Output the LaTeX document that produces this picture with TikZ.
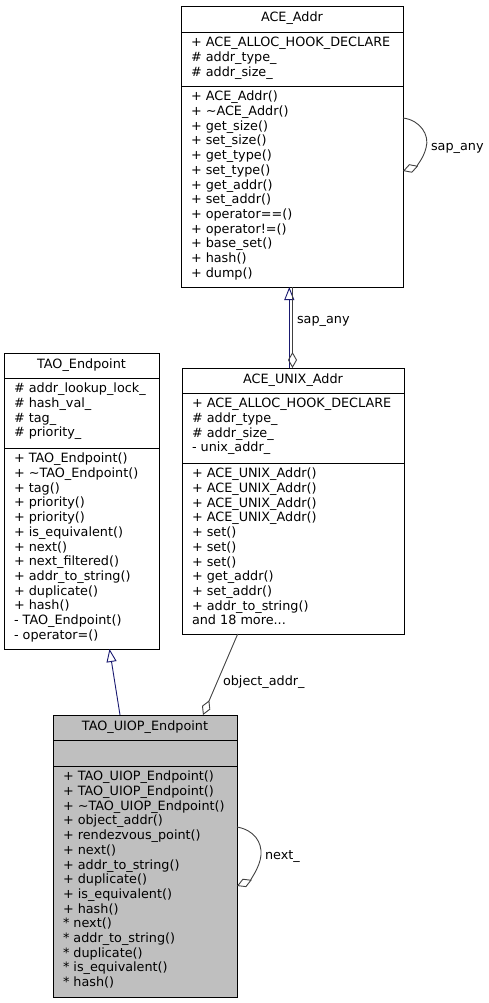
\documentclass[tikz,border=0pt]{standalone}
\usepackage{fontspec}
\setmainfont{DejaVu Sans}
\usetikzlibrary{arrows.meta,calc}
\definecolor{inhcol}{HTML}{191970}
\definecolor{aggcol}{HTML}{404040}
\definecolor{uiopfill}{HTML}{BFBFBF}
\tikzset{
  umltext/.style={inner sep=0pt, outer sep=0pt, font=\fontsize{12.8bp}{14.7bp}\selectfont},
  classbox/.style={draw=black, line width=0.9bp, rectangle, anchor=north west, inner sep=0pt, outer sep=0pt, fill=white},
  sepline/.style={draw=black, line width=0.9bp},
  classtitle/.style={umltext, anchor=base},
  member/.style={umltext, anchor=base west},
  edgelabel/.style={umltext, anchor=base west},
  inherit/.style={draw=inhcol, line width=0.9bp, -{Triangle[open, length=13bp, width=10bp]}},
  aggr/.style={draw=aggcol, line width=0.9bp, -{Diamond[open, length=16bp, width=9bp]}},
}
\newcommand\memberlist[4]{%
  \foreach \m [count=\i] in {#4}{\node[member] (#1-\i) at (#2,{#3+(\i-1)*14.7}) {\m};}}
\newcommand\seps[3]{%
  \draw[sepline] ($(#1.north west)+(0,#2)$) -- ($(#1.north east)+(0,#2)$);
  \draw[sepline] ($(#1.north west)+(0,#3)$) -- ($(#1.north east)+(0,#3)$);}
\begin{document}
\begin{tikzpicture}[x=1bp,y=-1bp]
\useasboundingbox (0,0) rectangle (489,1003);

% ACE_Addr
\node[classbox, minimum width=222bp, minimum height=281bp] (aceaddr) at (181,6) {};
\seps{aceaddr}{26}{80}
\node[classtitle] (aceaddr-t) at ($(aceaddr.north)+(0,15.7)$) {ACE\_Addr};
\memberlist{aceaddr-a}{191}{46.7}{+ ACE\_ALLOC\_HOOK\_DECLARE, \# addr\_type\_, \# addr\_size\_}
\memberlist{aceaddr-m}{191}{100.8}{+ ACE\_Addr(), + \textasciitilde{}ACE\_Addr(), + get\_size(), + set\_size(), + get\_type(), + set\_type(), + get\_addr(), + set\_addr(), + operator==(), + operator!=(), + base\_set(), + hash(), + dump()}

% TAO_Endpoint
\node[classbox, minimum width=155bp, minimum height=296bp] (taoep) at (4,353) {};
\seps{taoep}{25}{95}
\node[classtitle] (taoep-t) at ($(taoep.north)+(0,15.7)$) {TAO\_Endpoint};
\memberlist{taoep-a}{14}{392.8}{\# addr\_lookup\_lock\_, \# hash\_val\_, \# tag\_, \# priority\_}
\memberlist{taoep-m}{14}{462.8}{+ TAO\_Endpoint(), + \textasciitilde{}TAO\_Endpoint(), + tag(), + priority(), + priority(), + is\_equivalent(), + next(), + next\_filtered(), + addr\_to\_string(), + duplicate(), + hash(), - TAO\_Endpoint(), - operator=()}

% ACE_UNIX_Addr
\node[classbox, minimum width=222bp, minimum height=266bp] (unix) at (182,368) {};
\seps{unix}{25}{95}
\node[classtitle] (unix-t) at ($(unix.north)+(0,15.7)$) {ACE\_UNIX\_Addr};
\memberlist{unix-a}{192}{407.8}{+ ACE\_ALLOC\_HOOK\_DECLARE, \# addr\_type\_, \# addr\_size\_, - unix\_addr\_}
\memberlist{unix-m}{192}{477.8}{+ ACE\_UNIX\_Addr(), + ACE\_UNIX\_Addr(), + ACE\_UNIX\_Addr(), + ACE\_UNIX\_Addr(), + set(), + set(), + set(), + get\_addr(), + set\_addr(), + addr\_to\_string(), and 18 more.{}.{}.}

% TAO_UIOP_Endpoint
\node[classbox, fill=uiopfill, minimum width=184bp, minimum height=282bp] (uiop) at (53,715) {};
\seps{uiop}{25}{51}
\node[classtitle] (uiop-t) at ($(uiop.north)+(0,15.7)$) {TAO\_UIOP\_Endpoint};
\memberlist{uiop-m}{63}{780.8}{+ TAO\_UIOP\_Endpoint(), + TAO\_UIOP\_Endpoint(), + \textasciitilde{}TAO\_UIOP\_Endpoint(), + object\_addr(), + rendezvous\_point(), + next(), + addr\_to\_string(), + duplicate(), + is\_equivalent(), + hash(), * next(), * addr\_to\_string(), * duplicate(), * is\_equivalent(), * hash()}

% connectors
\draw[inherit] ($(unix.north west)+(107.3,0)$) -- ($(aceaddr.south west)+(108.3,0)$);
\draw[aggr] ($(aceaddr.south west)+(111.5,0)$) -- ($(unix.north west)+(110.5,0)$);
\node[edgelabel] (lbl-sap2) at (297,323) {sap\_any};

\draw[aggr] ($(aceaddr.north east)+(0,112)$) .. controls +(17,2) and +(4,-13) .. ($(aceaddr.north east)+(23,142)$)
  .. controls +(-3,12) and +(12,-4) .. ($(aceaddr.north east)+(0,165)$);
\node[edgelabel] (lbl-sap1) at (431,150) {sap\_any};

\draw[inherit] ($(uiop.north west)+(67,0)$) -- ($(taoep.south west)+(105.5,0)$);

\draw[aggr] ($(unix.south west)+(55.7,0)$) -- ($(uiop.north west)+(150,0)$);
\node[edgelabel] (lbl-obj) at (223,685.7) {object\_addr\_};

\draw[aggr] ($(uiop.north east)+(0,112)$) .. controls +(17,3) and +(1,-13) .. ($(uiop.north east)+(24,140)$)
  .. controls +(-1,13) and +(12,-5) .. ($(uiop.north east)+(0,171)$);
\node[edgelabel] (lbl-next) at (265,859) {next\_};
\end{tikzpicture}
\end{document}
